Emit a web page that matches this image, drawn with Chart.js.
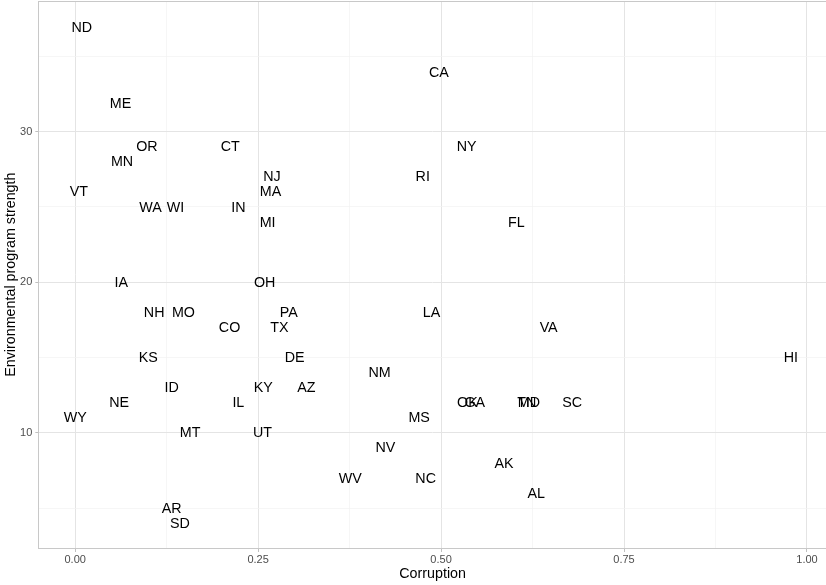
<!DOCTYPE html>
<html><head><meta charset="utf-8">
<script src="https://cdn.jsdelivr.net/npm/chart.js@4"></script>
<style>html,body{margin:0;padding:0;background:#fff}#wrap{width:826px;height:585px;position:relative}</style>
</head><body><div id="wrap"><canvas id="c" width="826" height="585"></canvas></div>
<script>
const states = ['ND','ME','OR','CT','MN','NJ','MA','VT','CA','NY','RI','FL','WA','WI','IN','MI','IA','OH','NH','MO','PA','CO','TX','KS','DE','ID','KY','AZ','NE','IL','WY','MT','UT','AR','SD','LA','VA','NM','OK','GA','TN','MD','SC','MS','NV','WV','NC','AK','AL','HI'];
const corruption = [0.009,0.062,0.098,0.212,0.064,0.269,0.267,0.005,0.497,0.535,0.475,0.603,0.103,0.137,0.223,0.263,0.063,0.259,0.108,0.148,0.292,0.211,0.279,0.100,0.300,0.132,0.257,0.316,0.060,0.223,0.000,0.157,0.256,0.132,0.143,0.487,0.647,0.416,0.536,0.546,0.617,0.620,0.679,0.470,0.424,0.376,0.479,0.586,0.630,0.978];
const programStrength = [36.9,31.9,29,29,28,27,26,26,33.9,29,27,24,25,25,25,24,20,20,18,18,18,17,17,15,15,13,13,13,12,12,11,10,10,5,4,18,17,14,12,12,12,12,12,11,9,7,7,8,6,15];
const xMajorTicks = [0, 0.25, 0.5, 0.75, 1];
const xTickLabels = ['0.00','0.25','0.50','0.75','1.00'];
const xMinorTicks = [0.125, 0.375, 0.625, 0.875];
const yMajorTicks = [10, 20, 30];
const yTickLabels = ['10','20','30'];
const yMinorTicks = [5, 15, 25, 35];
const xTitle = 'Corruption';
const yTitle = 'Environmental program strength';

const FONT = '"Liberation Sans", Arial, Helvetica, sans-serif';

const textLabels = {
  id: 'textLabels',
  beforeDatasetsDraw(chart) {
    const {ctx, chartArea: a} = chart;
    ctx.save();
    ctx.strokeStyle = '#c8c8c8';
    ctx.lineWidth = 1;
    ctx.strokeRect(Math.round(a.left) - 0.5, Math.round(a.top) + 0.5, a.right - a.left + 2, Math.round(a.bottom) - Math.round(a.top));
    ctx.restore();
  },
  afterDatasetsDraw(chart) {
    const ctx = chart.ctx;
    const meta = chart.getDatasetMeta(0);
    ctx.save();
    ctx.font = '14.3px ' + FONT;
    ctx.fillStyle = '#000';
    ctx.textAlign = 'center';
    ctx.textBaseline = 'middle';
    meta.data.forEach((el, i) => ctx.fillText(states[i], el.x, el.y + 0.7));
    ctx.restore();
  }
};

function gridOpts(majors) {
  return {
    color: c => (c.tick && majors.includes(c.tick.value)) ? '#e4e4e4' : '#f2f2f2',
    lineWidth: c => (c.tick && majors.includes(c.tick.value)) ? 1 : 0.7,
    tickColor: c => (c.tick && majors.includes(c.tick.value)) ? '#c0c0c0' : 'rgba(0,0,0,0)',
    tickLength: 4,
    drawTicks: true
  };
}

new Chart(document.getElementById('c'), {
  type: 'scatter',
  data: {
    datasets: [{
      data: states.map((s, i) => ({x: corruption[i], y: programStrength[i]})),
      pointRadius: 0, pointHoverRadius: 0, pointHitRadius: 0
    }]
  },
  options: {
    responsive: false,
    animation: false,
    events: [],
    layout: {padding: {top: 1.3, left: 0, right: 0, bottom: 0}},
    plugins: {legend: {display: false}, tooltip: {enabled: false}},
    scales: {
      x: {
        type: 'linear', min: -0.049, max: 1.026,
        afterBuildTicks: s => { s.ticks = [...xMinorTicks, ...xMajorTicks].sort((a, b) => a - b).map(v => ({value: v})); },
        afterFit: s => { s.height = 37; s.paddingLeft = 0; s.paddingRight = 0; s.paddingTop = 0; s.paddingBottom = 0; },
        ticks: {
          autoSkip: false, maxRotation: 0, minRotation: 0, padding: 1.5,
          color: '#4d4d4d', font: {family: FONT, size: 11},
          callback: v => { const i = xMajorTicks.indexOf(v); return i >= 0 ? xTickLabels[i] : ''; }
        },
        grid: gridOpts(xMajorTicks),
        border: {display: false},
        title: {display: true, text: xTitle, color: '#000', font: {family: FONT, size: 14.3}, padding: {top: 0, bottom: 2}}
      },
      y: {
        type: 'linear', min: 2.35, max: 38.65,
        afterBuildTicks: s => { s.ticks = [...yMinorTicks, ...yMajorTicks].sort((a, b) => a - b).map(v => ({value: v})); },
        afterFit: s => { s.width = 39.3; s.paddingLeft = 0; s.paddingRight = 0; s.paddingTop = 0; s.paddingBottom = 0; },
        ticks: {
          autoSkip: false, padding: 3,
          color: '#4d4d4d', font: {family: FONT, size: 11},
          callback: v => { const i = yMajorTicks.indexOf(v); return i >= 0 ? yTickLabels[i] : ''; }
        },
        grid: gridOpts(yMajorTicks),
        border: {display: false},
        title: {display: true, text: yTitle, color: '#000', font: {family: FONT, size: 14.3}, padding: {top: 2, bottom: 0}}
      }
    }
  },
  plugins: [textLabels]
});
</script>
</body></html>
